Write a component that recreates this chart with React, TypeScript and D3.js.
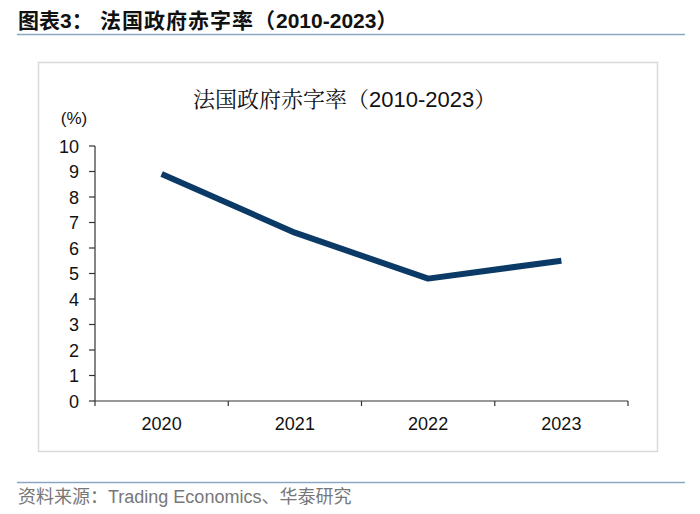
import React from "react";
import * as d3 from "d3";

const years = ["2020", "2021", "2022", "2023"];
const deficit = [8.9, 6.6, 4.8, 5.5];
const yTicks = [0, 1, 2, 3, 4, 5, 6, 7, 8, 9, 10];

export default function App() {
  const W = 700, H = 514;
  const left = 95, right = 628, top = 146, bottom = 401;
  const x = d3.scaleBand<string>().domain(years).range([left, right]);
  const y = d3.scaleLinear().domain([0, 10]).range([bottom, top]);
  const line = d3
    .line<number>()
    .x((_, i) => (x(years[i]) as number) + x.bandwidth() / 2)
    .y((d) => y(d));
  const boundaries = [...years.map((c) => x(c) as number), right];
  const font = "Arial, 'Liberation Sans', sans-serif";
  const cjk = "'Noto Sans CJK SC', sans-serif";
  const cjkSerif = "'Noto Serif CJK SC', 'Noto Sans CJK SC', serif";
  return (
    <svg width={W} height={H} style={{ position: "absolute", left: 0, top: 0 }} fontFamily={font}>
      <rect x={0} y={0} width={W} height={H} fill="#fff" />
      <text y={28} fontSize={21} fontWeight="bold" fill="#111">
        <tspan x={18} fontFamily={cjk}>图表</tspan>
        <tspan>3</tspan>
        <tspan fontFamily={cjk}>：</tspan>
        <tspan x={100} fontFamily={cjk} letterSpacing={1}>法国政府赤字率（</tspan>
        <tspan>2010-2023</tspan>
        <tspan fontFamily={cjk}>）</tspan>
      </text>
      <line x1={17} x2={685} y1={34.5} y2={34.5} stroke="#8ea6c6" strokeWidth={1.5} />
      <rect x={38.5} y={62.5} width={619} height={389} fill="#fff" stroke="#d9d9d9" strokeWidth={1.5} />
      <text x={193} y={107} fontSize={22} fill="#111">
        <tspan fontFamily={cjkSerif}>法国政府赤字率（</tspan>
        <tspan fontFamily={font}>2010-2023</tspan>
        <tspan fontFamily={cjkSerif}>）</tspan>
      </text>
      <text x={74} y={124} fontSize={17} textAnchor="middle" fill="#111">(%)</text>
      {yTicks.map((t) => (
        <g key={t}>
          <line x1={left - 6} x2={left} y1={y(t)} y2={y(t)} stroke="#333" strokeWidth={1.2} />
          <text x={left - 16} y={y(t) + 6.5} fontSize={18} textAnchor="end" fill="#111">{t}</text>
        </g>
      ))}
      <line x1={left} x2={left} y1={top} y2={bottom} stroke="#333" strokeWidth={1.2} />
      <line x1={left} x2={right} y1={bottom} y2={bottom} stroke="#333" strokeWidth={1.2} />
      {boundaries.map((b, i) => (
        <line key={i} x1={b} x2={b} y1={bottom} y2={bottom + 5} stroke="#333" strokeWidth={1.2} />
      ))}
      {years.map((c) => (
        <text key={c} x={(x(c) as number) + x.bandwidth() / 2} y={430} fontSize={18} textAnchor="middle" fill="#111">{c}</text>
      ))}
      <path d={line(deficit) || ""} fill="none" stroke="#0b3a66" strokeWidth={6} strokeLinejoin="round" />
      <line x1={17} x2={685} y1={482.5} y2={482.5} stroke="#8ea6c6" strokeWidth={1.5} />
      <text x={18} y={503} fontSize={18} fill="#777">
        <tspan fontFamily={cjk}>资料来源：</tspan>
        <tspan>Trading Economics</tspan>
        <tspan fontFamily={cjk}>、华泰研究</tspan>
      </text>
    </svg>
  );
}
